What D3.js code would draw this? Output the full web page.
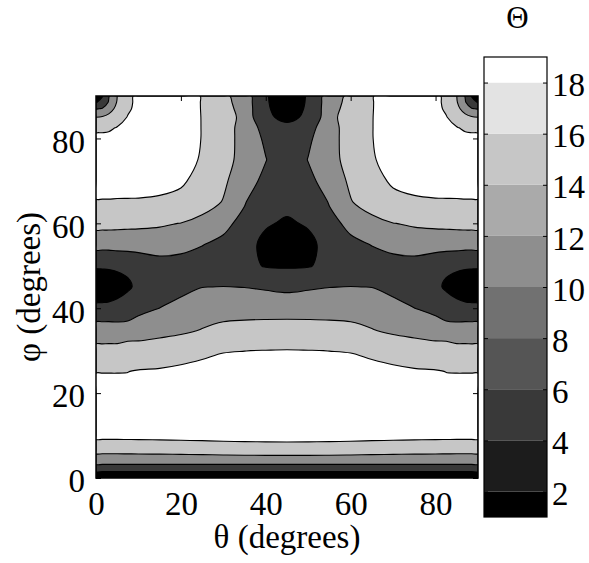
<!DOCTYPE html>
<html>
<head>
<meta charset="utf-8">
<script src="https://cdn.jsdelivr.net/npm/d3@7"></script>
<style>
  body { margin: 0; background: #fff; }
  svg { display: block; }
</style>
</head>
<body>
<svg id="chart" width="589" height="563"></svg>
<script>
// ---------------- data ----------------
// grid positions (degrees) of the sampled field
const thetaDeg = [0, 1.5, 3, 5, 7.5, 10, 15, 20, 25, 30, 35, 40, 45, 50, 55, 60, 65, 70, 75, 80, 82.5, 85, 87, 88.5, 90];
const phiDeg = [0, 1, 2, 3, 4, 5, 6.5, 8, 10, 15, 20, 25, 30, 35, 40, 45, 50, 55, 60, 65, 70, 75, 80, 82.5, 85, 87, 88.5, 90];

// Θ values, one row per phi (bottom to top), one column per theta
const Theta = [
  [1.0,1.0,1.0,1.0,1.0,1.0,1.0,1.0,1.0,1.0,1.0,1.0,1.0,1.0,1.0,1.0,1.0,1.0,1.0,1.0,1.0,1.0,1.0,1.0,1.0],
  [2.5,2.5,2.5,2.5,2.5,2.5,2.5,2.5,2.5,2.5,2.5,2.5,2.5,2.5,2.5,2.5,2.5,2.5,2.5,2.5,2.5,2.5,2.5,2.5,2.5],
  [5.5,5.5,5.5,5.5,5.5,5.5,5.5,5.5,5.5,5.5,5.5,5.5,5.5,5.5,5.5,5.5,5.5,5.5,5.5,5.5,5.5,5.5,5.5,5.5,5.5],
  [9.6,9.6,9.6,9.6,9.6,9.6,9.6,9.6,9.6,9.6,9.6,9.6,9.6,9.6,9.6,9.6,9.6,9.6,9.6,9.6,9.6,9.6,9.6,9.6,9.6],
  [11.6,11.6,11.6,11.6,11.6,11.6,11.6,11.6,11.6,11.6,11.6,11.6,11.6,11.6,11.6,11.6,11.6,11.6,11.6,11.6,11.6,11.6,11.6,11.6,11.6],
  [13.2,13.2,13.2,13.2,13.22,13.25,13.3,13.35,13.4,13.48,13.55,13.6,13.6,13.6,13.55,13.48,13.4,13.35,13.3,13.25,13.22,13.2,13.2,13.2,13.2],
  [14.9,14.9,14.9,14.9,14.92,14.95,15.0,15.1,15.2,15.3,15.35,15.4,15.4,15.4,15.35,15.3,15.2,15.1,15.0,14.95,14.92,14.9,14.9,14.9,14.9],
  [16.9,16.9,16.9,16.92,16.95,17.0,17.1,17.25,17.35,17.5,17.6,17.65,17.67,17.65,17.6,17.5,17.35,17.25,17.1,17.0,16.95,16.92,16.9,16.9,16.9],
  [18.9,18.9,18.9,18.9,18.9,18.92,18.94,18.96,18.98,19.0,19.0,19.0,19.0,19.0,19.0,19.0,18.98,18.96,18.94,18.92,18.9,18.9,18.9,18.9,18.9],
  [19.0,19.0,19.0,19.0,19.0,19.0,19.0,19.0,19.0,19.0,19.0,19.0,19.0,19.0,19.0,19.0,19.0,19.0,19.0,19.0,19.0,19.0,19.0,19.0,19.0],
  [18.8,18.8,18.8,18.8,18.82,18.85,19.0,19.0,19.0,19.0,19.0,19.0,19.0,19.0,19.0,19.0,19.0,19.0,19.0,18.85,18.82,18.8,18.8,18.8,18.8],
  [17.95,17.95,17.95,17.95,17.98,18.3,18.4,18.5,18.7,18.8,18.9,18.95,18.95,18.95,18.9,18.8,18.7,18.5,18.4,18.3,17.98,17.95,17.95,17.95,17.95],
  [14.45,14.45,14.45,14.6,14.8,15.2,16.0,17.0,17.5,17.9,17.98,18.05,18.1,18.05,17.98,17.9,17.5,17.0,16.0,15.2,14.8,14.6,14.45,14.45,14.45],
  [13.05,13.05,13.1,12.8,13.0,12.6,12.67,13.05,14.1,15.0,15.4,15.6,15.66,15.6,15.4,15.0,14.1,13.05,12.67,12.6,13.0,12.8,13.1,13.05,13.05],
  [4.57,4.6,4.64,4.8,5.5,8.54,10.05,11.6,12.0,12.22,12.22,12.2,12.2,12.2,12.22,12.22,12.0,11.6,10.05,8.54,5.5,4.8,4.64,4.6,4.57],
  [2.2,2.3,2.5,3.0,3.6,4.6,6.2,8.6,9.95,10.05,9.95,9.6,9.2,9.6,9.95,10.05,9.95,8.6,6.2,4.6,3.6,3.0,2.5,2.3,2.2],
  [4.25,4.3,4.33,4.39,4.51,5.8,7.6,8.2,7.8,7.8,5.6,3.6,3.3,3.6,5.6,7.8,7.8,8.2,7.6,5.8,4.51,4.39,4.33,4.3,4.25],
  [12.02,12.0,12.0,12.4,12.58,12.57,12.82,11.41,10.15,8.8,5.41,3.0,2.3,3.0,5.41,8.8,10.15,11.41,12.82,12.57,12.58,12.4,12.0,12.0,12.02],
  [14.93,14.93,14.93,14.69,14.55,14.5,14.26,13.95,13.2,11.4,8.3,4.4,3.5,4.4,8.3,11.4,13.2,13.95,14.26,14.5,14.55,14.69,14.93,14.93,14.93],
  [17.9,17.9,17.9,17.88,17.87,17.86,17.7,17.0,15.2,13.85,10.4,5.4,5.06,5.4,10.4,13.85,15.2,17.0,17.7,17.86,17.87,17.88,17.9,17.9,17.9],
  [18.6,18.6,18.6,18.6,18.6,18.6,18.65,18.5,16.8,14.5,12.2,8.7,6.0,8.7,12.2,14.5,16.8,18.5,18.65,18.6,18.6,18.6,18.6,18.6,18.6],
  [18.9,18.9,18.9,18.9,18.9,18.9,18.9,18.6,17.85,14.6,13.4,10.17,6.0,10.17,13.4,14.6,17.85,18.6,18.9,18.9,18.9,18.9,18.9,18.9,18.9],
  [18.7,18.7,18.7,18.8,18.85,18.9,18.9,18.8,17.95,14.7,13.4,9.1,5.4,9.1,13.4,14.7,17.95,18.8,18.9,18.9,18.85,18.8,18.7,18.7,18.7],
  [17.3,17.4,17.6,18.15,18.8,18.9,18.9,18.7,17.96,14.7,13.4,8.0,5.0,8.0,13.4,14.7,17.96,18.7,18.9,18.9,18.8,18.15,17.6,17.4,17.3],
  [14.0,14.3,15.1,16.7,18.15,18.8,18.9,18.65,17.96,14.65,13.6,4.7,3.0,4.7,13.6,14.65,17.96,18.65,18.9,18.8,18.15,16.7,15.1,14.3,14.0],
  [9.6,10.4,12.3,15.1,17.6,18.75,18.9,18.6,17.95,14.6,13.4,4.5,2.2,4.5,13.4,14.6,17.95,18.6,18.9,18.75,17.6,15.1,12.3,10.4,9.6],
  [3.6,6.1,10.4,14.3,17.4,18.7,18.9,18.55,17.95,14.55,13.2,4.4,1.8,4.4,13.2,14.55,17.95,18.55,18.9,18.7,17.4,14.3,10.4,6.1,3.6],
  [1.0,3.6,9.6,14.0,17.3,18.7,18.9,18.5,17.95,14.5,12.9,4.3,1.5,4.3,12.9,14.5,17.95,18.5,18.9,18.7,17.3,14.0,9.6,3.6,1.0]
];

const contourLevels = [4, 10, 14, 18];
const colorbarLevels = [2, 4, 6, 8, 10, 12, 14, 16, 18];
const colorbarLimits = [1, 19];
const grayRamp = ["#000000", "#1c1c1c", "#393939", "#555555", "#717171", "#8e8e8e", "#aaaaaa", "#c6c6c6", "#e3e3e3", "#ffffff"];
const axisTicks = [0, 20, 40, 60, 80];
const colorbarTicks = [2, 4, 6, 8, 10, 12, 14, 16, 18];

// ---------------- layout ----------------
const plot = { left: 96, right: 478, top: 96, bottom: 478 };
const cb = { left: 484, right: 547, top: 57, bottom: 517 };
const fontSize = 33;
const serif = "Liberation Serif";

const svg = d3.select("#chart");
svg.append("rect").attr("width", 589).attr("height", 563).attr("fill", "#fff");

const x = d3.scaleLinear([0, 90], [plot.left, plot.right]);
const y = d3.scaleLinear([0, 90], [plot.bottom, plot.top]);
const nx = thetaDeg.length, ny = phiDeg.length;
const ix = d3.scaleLinear(d3.range(nx), thetaDeg).clamp(true);
const iy = d3.scaleLinear(d3.range(ny), phiDeg).clamp(true);
const color = d3.scaleThreshold(colorbarLevels, grayRamp);

// ---------------- contour plot ----------------
svg.append("defs").append("clipPath").attr("id", "plotclip")
  .append("rect")
  .attr("x", plot.left).attr("y", plot.top)
  .attr("width", plot.right - plot.left).attr("height", plot.bottom - plot.top);

const gPlot = svg.append("g").attr("clip-path", "url(#plotclip)");
const minVal = d3.min(Theta.flat());
gPlot.append("rect")
  .attr("x", plot.left).attr("y", plot.top)
  .attr("width", plot.right - plot.left).attr("height", plot.bottom - plot.top)
  .attr("fill", color(minVal));

const bands = d3.contours().size([nx, ny]).thresholds(contourLevels)(Theta.flat());
const ringLine = d3.line().curve(d3.curveCatmullRomClosed.alpha(0.5));
function ringPath(ring) {
  const pts = ring.slice(0, -1).map(([cx, cy]) => [x(ix(cx - 0.5)), y(iy(cy - 0.5))]);
  return ringLine(pts);
}
bands.forEach(band => {
  const d = band.coordinates.map(poly => poly.map(ringPath).join("")).join("");
  gPlot.append("path")
    .attr("d", d)
    .attr("fill", color(band.value))
    .attr("fill-rule", "evenodd")
    .attr("stroke", "#000")
    .attr("stroke-width", 1.1)
    .attr("stroke-linejoin", "round");
});

// ---------------- axes ----------------
function styleAxis(g) {
  g.attr("font-family", serif).attr("font-size", fontSize);
  g.select(".domain").remove();
  g.selectAll(".tick line").attr("stroke", "#000").attr("stroke-width", 1);
  g.selectAll("text")
    .attr("font-family", serif)
    .attr("font-size", fontSize)
    .attr("fill", "#000");
}
svg.append("g").attr("transform", `translate(0,${plot.bottom})`)
  .call(d3.axisBottom(x).tickValues(axisTicks).tickSize(-5).tickPadding(14))
  .call(styleAxis);
svg.append("g").attr("transform", `translate(0,${plot.top})`)
  .call(d3.axisTop(x).tickValues(axisTicks).tickSize(-5).tickFormat(""))
  .call(styleAxis);
svg.append("g").attr("transform", `translate(${plot.left},0)`)
  .call(d3.axisLeft(y).tickValues(axisTicks).tickSize(-5).tickPadding(11))
  .call(styleAxis)
  .call(g => g.selectAll("text").attr("dy", "0.42em"));
svg.append("g").attr("transform", `translate(${plot.right},0)`)
  .call(d3.axisRight(y).tickValues(axisTicks).tickSize(-5).tickFormat(""))
  .call(styleAxis);

svg.append("rect")
  .attr("x", plot.left).attr("y", plot.top)
  .attr("width", plot.right - plot.left).attr("height", plot.bottom - plot.top)
  .attr("fill", "none").attr("stroke", "#000").attr("stroke-width", 1.5);

svg.append("text")
  .attr("x", (plot.left + plot.right) / 2).attr("y", 548)
  .attr("text-anchor", "middle")
  .attr("font-family", serif).attr("font-size", fontSize)
  .text("θ (degrees)");
svg.append("text")
  .attr("transform", `translate(40,${(plot.top + plot.bottom) / 2}) rotate(-90)`)
  .attr("text-anchor", "middle")
  .attr("font-family", serif).attr("font-size", fontSize)
  .text("φ (degrees)");

// ---------------- colorbar ----------------
const cbY = d3.scaleLinear(colorbarLimits, [cb.bottom, cb.top]);
const cbEdges = [colorbarLimits[0], ...colorbarLevels, colorbarLimits[1]];
svg.append("g").selectAll("rect")
  .data(d3.pairs(cbEdges))
  .join("rect")
  .attr("x", cb.left).attr("width", cb.right - cb.left)
  .attr("y", d => cbY(d[1])).attr("height", d => cbY(d[0]) - cbY(d[1]))
  .attr("fill", d => color(d[0]));

svg.append("g").attr("transform", `translate(${cb.right},0)`)
  .call(d3.axisRight(cbY).tickValues(colorbarTicks).tickSize(-4).tickPadding(5))
  .call(styleAxis)
  .call(g => g.selectAll("text").attr("dy", "0.4em"));
svg.append("g").attr("transform", `translate(${cb.left},0)`)
  .call(d3.axisLeft(cbY).tickValues(colorbarTicks).tickSize(-4).tickFormat(""))
  .call(styleAxis);

svg.append("rect")
  .attr("x", cb.left).attr("y", cb.top)
  .attr("width", cb.right - cb.left).attr("height", cb.bottom - cb.top)
  .attr("fill", "none").attr("stroke", "#000").attr("stroke-width", 1.2);

svg.append("text")
  .attr("x", (cb.left + cb.right) / 2 + 2).attr("y", 28)
  .attr("text-anchor", "middle")
  .attr("font-family", serif).attr("font-size", 31)
  .text("Θ");
</script>
</body>
</html>
